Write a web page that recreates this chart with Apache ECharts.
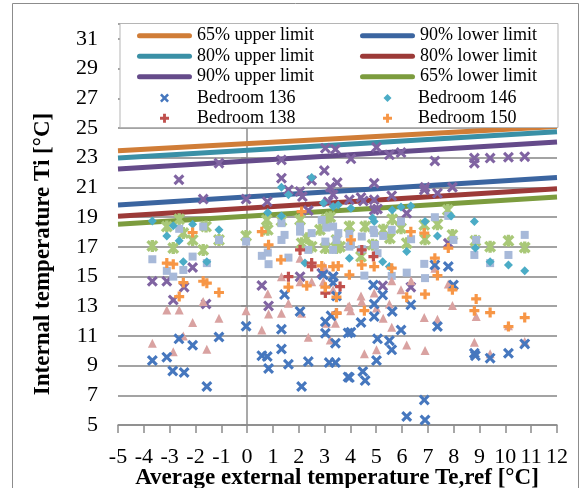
<!DOCTYPE html>
<html><head><meta charset="utf-8">
<script src="https://cdn.jsdelivr.net/npm/echarts@6/dist/echarts.min.js"></script>
<style>html,body{margin:0;padding:0;background:#fff}#c{width:584px;height:488px}</style>
</head><body><div id="c"></div>
<script>
// ---- data ----
const lineX = [-5, 12];
const up65 = [23.47, 25.1];
const up80 = [22.97, 24.75];
const up90 = [22.23, 24.05];
const lo90 = [19.82, 21.67];
const lo80 = [19.05, 20.9];
const lo65 = [18.52, 20.35];

const xTicks = [-5, 12, 1];
const yTicks = [5, 32, 2];

const bed136 = [[-3.67,9.34],[-3.11,9.57],[-2.88,8.64],[-2.44,8.53],[-2.64,10.80],[-2.11,10.37],[-1.56,7.59],[-1.09,10.93],[-0.04,11.65],[0.57,9.67],[0.78,9.61],[0.83,8.80],[1.33,11.45],[1.33,10.12],[1.60,9.09],[1.45,13.78],[2.05,12.65],[2.11,7.59],[2.37,9.27],[3.03,11.18],[3.18,9.20],[3.42,9.20],[3.42,10.51],[3.03,11.96],[3.25,12.35],[3.91,11.20],[3.91,8.24],[3.46,13.69],[3.33,14.57],[2.95,15.11],[3.33,14.99],[4.89,14.43],[5.25,13.76],[4.92,13.15],[4.92,12.30],[5.62,12.64],[6.34,13.09],[4.41,11.90],[4.02,11.25],[5.05,10.80],[5.51,10.68],[5.60,10.06],[5.96,11.40],[5.01,9.34],[7.37,11.63],[3.96,8.19],[4.48,8.60],[4.57,7.99],[6.86,6.69],[6.18,5.57],[6.89,5.34],[7.99,14.43],[8.80,9.83],[8.84,9.67],[9.41,9.50],[10.12,9.83],[10.75,10.46],[7.27,15.78],[7.79,15.67]];
const bed146 = [[-3.67,18.74],[-3.11,17.73],[-2.86,18.41],[-2.63,17.40],[-2.11,18.52],[-1.09,18.14],[-2.47,16.00],[-1.56,16.00],[1.33,21.01],[1.60,20.50],[0.80,19.30],[2.50,21.66],[2.95,19.94],[3.33,19.71],[3.53,19.82],[2.24,15.90],[1.33,19.08],[3.96,16.23],[4.02,19.60],[5.62,19.48],[5.96,19.67],[6.34,19.75],[4.92,18.70],[8.80,18.70],[7.37,17.73],[8.84,16.91],[6.18,16.68],[5.25,16.00],[5.51,15.67],[9.41,16.00],[10.12,15.78],[10.75,15.38],[7.90,19.08],[6.89,18.70],[4.86,18.93]];
const bed138 = [[1.60,14.99],[2.50,15.90],[2.05,16.79],[2.50,15.67],[3.03,13.88],[3.46,12.53],[4.89,16.34],[3.60,14.32],[4.44,16.79]];
const bed150 = [[-2.11,17.96],[-3.11,15.90],[-2.86,15.83],[-2.47,14.59],[-1.70,14.68],[-1.56,14.55],[0.57,18.02],[0.83,17.13],[1.31,16.12],[2.11,19.37],[2.89,15.71],[3.33,15.67],[3.53,15.71],[3.96,15.11],[-2.63,13.65],[-1.09,13.92],[1.60,14.28],[2.31,14.37],[3.03,14.28],[3.46,13.61],[3.46,12.53],[4.54,12.70],[6.18,13.61],[6.89,13.81],[7.95,14.10],[8.87,13.49],[8.80,12.70],[9.41,12.57],[10.75,12.23],[10.12,11.63],[6.34,18.02],[6.86,17.92],[4.02,17.46],[4.44,15.78],[4.92,15.67],[5.60,15.56],[7.27,16.23],[7.37,15.06],[7.79,16.91]];
const roomA = [[-2.64,21.51],[-1.09,22.63],[-1.70,20.21],[-0.04,20.21],[0.78,20.04],[1.33,22.85],[1.33,21.62],[1.60,20.83],[2.05,20.72],[2.14,20.38],[2.50,21.46],[2.99,22.13],[3.03,23.64],[3.42,23.57],[3.22,21.01],[3.49,21.32],[3.33,20.50],[3.14,20.04],[3.96,20.16],[2.37,19.44],[-3.67,14.68],[-3.11,14.68],[-2.11,15.60],[0.57,14.39],[2.05,14.99],[2.89,15.22],[3.33,14.99],[-2.44,14.28],[-2.86,13.42],[-1.59,13.15],[0.83,13.02],[5.01,23.70],[4.02,22.92],[5.51,23.19],[5.96,23.34],[7.27,22.78],[8.80,22.97],[8.80,22.63],[9.41,22.97],[10.12,23.03],[10.75,23.07],[4.92,21.28],[6.86,20.83],[6.89,21.01],[7.37,20.61],[7.95,21.01],[4.41,20.31],[4.50,20.09],[4.92,20.16],[5.60,20.43],[4.92,19.48],[5.05,19.55],[6.18,19.26],[7.79,17.24],[5.25,14.37],[6.34,14.28]];
const roomB = [[-3.67,17.06],[-3.11,18.36],[-2.86,16.91],[-2.63,18.86],[-2.47,17.92],[-2.11,17.46],[-1.70,16.79],[-1.59,18.36],[-1.09,17.46],[-0.04,17.73],[0.76,18.81],[0.80,18.14],[1.33,18.76],[2.05,18.81],[2.11,17.24],[2.31,17.58],[3.07,18.86],[3.22,18.99],[3.03,16.91],[3.46,16.91],[3.46,17.46],[3.96,18.36],[2.50,17.01],[2.82,18.14],[4.57,18.36],[5.27,18.14],[5.62,18.86],[5.96,18.25],[5.53,17.58],[6.86,18.47],[7.37,18.52],[7.77,19.48],[7.95,17.80],[8.84,17.40],[9.41,17.01],[10.12,17.40],[10.75,16.95],[6.18,17.24],[6.89,17.51],[4.41,16.34],[3.60,17.01],[4.86,17.13]];
const roomC = [[-3.67,16.16],[-3.11,15.38],[-2.86,14.99],[-2.63,18.21],[-2.47,15.44],[-2.11,16.34],[-1.70,18.36],[-1.56,15.90],[-1.09,17.46],[-0.04,17.35],[0.57,16.39],[0.80,16.61],[0.83,15.83],[1.33,18.59],[1.33,17.46],[1.45,17.80],[1.60,16.27],[2.05,18.36],[2.05,18.02],[2.50,17.92],[2.37,16.79],[2.89,18.81],[3.07,18.29],[3.33,18.36],[3.03,17.35],[3.46,17.46],[3.33,16.79],[3.53,17.92],[3.96,17.01],[3.96,17.87],[4.44,17.69],[4.89,18.14],[4.92,17.92],[5.60,18.14],[5.96,18.70],[5.27,17.73],[6.35,17.51],[7.27,18.99],[7.79,19.08],[7.99,17.46],[8.87,17.46],[8.80,16.45],[9.41,15.90],[10.12,16.45],[10.75,17.80],[4.02,17.13],[4.44,16.84],[4.95,17.13],[5.05,16.57],[6.89,14.89],[6.18,15.26],[4.54,15.06],[6.86,15.85],[5.60,15.04]];
const roomD = [[-3.11,12.75],[-2.63,12.75],[-2.11,11.90],[-1.70,13.31],[-1.09,12.19],[-0.04,12.70],[0.57,11.40],[0.80,13.83],[0.83,12.48],[1.33,12.53],[1.60,13.20],[2.11,12.53],[2.37,10.91],[-2.47,11.00],[-3.67,10.51],[-2.86,9.94],[-1.56,10.10],[3.07,11.85],[3.42,11.85],[3.22,10.73],[2.05,14.65],[2.50,14.65],[2.95,14.65],[3.33,14.10],[3.91,12.97],[4.41,13.69],[4.44,13.31],[3.96,13.02],[4.01,12.70],[4.92,13.88],[5.01,12.87],[5.27,12.19],[5.51,13.15],[5.60,11.59],[5.96,14.10],[6.86,12.23],[7.37,12.12],[7.95,13.04],[8.87,12.30],[8.80,10.58],[9.41,9.79],[10.12,11.69],[10.75,10.62],[4.54,9.79],[5.01,10.06],[6.18,10.39],[6.89,10.01],[7.79,14.50],[5.60,14.72],[6.35,14.72],[1.33,14.99],[2.05,16.23],[2.99,15.67],[7.27,15.56]];

// ---- styles ----
const FONT = 'Liberation Serif';
const X_SYM = 'path://M0,2L2,0L5,3L8,0L10,2L7,5L10,8L8,10L5,7L2,10L0,8L3,5Z';
const PLUS_SYM = 'path://M3.4,0H6.6V3.4H10V6.6H6.6V10H3.4V6.6H0V3.4H3.4Z';
const STAR_SYM = 'path://M0,2L2,0L5,3L8,0L10,2L7,5L10,8L8,10L5,7L2,10L0,8L3,5Z M3.6,0H6.4V10H3.6Z';
const BAR_ICON = 'path://M2.5,0H52.5A2.5,2.5 0 0 1 52.5,5H2.5A2.5,2.5 0 0 1 2.5,0Z';

const lineDefs = [
  ['65% upper limit', up65, '#d07d37'],
  ['80% upper limit', up80, '#3a90a6'],
  ['90% upper limit', up90, '#654b8a'],
  ['90% lower limit', lo90, '#3b65a0'],
  ['80% lower limit', lo80, '#9c3a38'],
  ['65% lower limit', lo65, '#7c9c3e']
];
const scatterDefs = [
  ['Room A', roomA, X_SYM, 11, '#8064a2'],
  ['Room B', roomB, STAR_SYM, 12, '#a9c878'],
  ['Room C', roomC, 'rect', 8, '#a7b9d9'],
  ['Room D', roomD, 'triangle', 9, '#d9a2a1'],
  ['Bedroom 136', bed136, X_SYM, 11, '#4677be'],
  ['Bedroom 146', bed146, 'diamond', 9, '#4bacc6'],
  ['Bedroom 138', bed138, PLUS_SYM, 10, '#c0504d'],
  ['Bedroom 150', bed150, PLUS_SYM, 10, '#f79646']
];

const series = [];
lineDefs.forEach(([name, ys, color]) => {
  series.push({
    name, type: 'line', data: lineX.map((x, i) => [x, ys[i]]),
    symbol: 'none', color, lineStyle: {width: 5, color, cap: 'butt'},
    z: 2, silent: true, animation: false
  });
});
scatterDefs.forEach(([name, data, sym, size, color], i) => {
  series.push({
    name, type: 'scatter', data, symbol: sym, symbolSize: size,
    itemStyle: {color, opacity: 1}, z: 3 + i * 0.01, animation: false
  });
});

// legend layout: two columns, five rows
const legendRows = [35.7, 56.2, 76.7, 98, 118.2];
const iconLeft = [137, 360];
const textLeft = [197, 418];
const legendItems = [
  ['65% upper limit', 0, 0, BAR_ICON, 55, 5],
  ['80% upper limit', 0, 1, BAR_ICON, 55, 5],
  ['90% upper limit', 0, 2, BAR_ICON, 55, 5],
  ['Bedroom 136', 0, 3, X_SYM, 9, 9],
  ['Bedroom 138', 0, 4, PLUS_SYM, 9, 9],
  ['90% lower limit', 1, 0, BAR_ICON, 55, 5],
  ['80% lower limit', 1, 1, BAR_ICON, 55, 5],
  ['65% lower limit', 1, 2, BAR_ICON, 55, 5],
  ['Bedroom 146', 1, 3, 'diamond', 8, 8],
  ['Bedroom 150', 1, 4, PLUS_SYM, 9, 9]
];
const legends = legendItems.map(([name, c, r, icon, w, h]) => {
  const left = w === 55 ? iconLeft[c] : iconLeft[c] + 27.5 - w / 2;
  const pad = textLeft[c] - (left + w + 5);
  return {
    left, top: legendRows[r] - 9, padding: 0,
    itemWidth: w, itemHeight: h, itemGap: 0, selectedMode: false,
    textStyle: {fontFamily: FONT, fontSize: 18, color: '#000', padding: [0, 0, 0, Math.max(0, pad)]},
    data: [{name, icon}], z: 10
  };
});

const axisLine = {show: true, lineStyle: {color: '#8c8c8c', width: 1.5}};
const option = {
  backgroundColor: '#fff',
  animation: false,
  grid: {left: 118, right: 27, top: 24, bottom: 63},
  xAxis: {
    type: 'value', min: xTicks[0], max: xTicks[1], interval: xTicks[2],
    axisLine, axisTick: {show: true, length: 8, lineStyle: {color: '#8c8c8c', width: 1.5}},
    axisLabel: {fontFamily: FONT, fontSize: 22, color: '#000', margin: 21},
    splitLine: {show: false}
  },
  yAxis: {
    type: 'value', min: yTicks[0], max: yTicks[1], interval: yTicks[2],
    axisLine, axisTick: {show: true, length: 6, lineStyle: {color: '#8c8c8c', width: 1.5}},
    axisLabel: {fontFamily: FONT, fontSize: 22, color: '#000', margin: 20,
      formatter: v => (v > 31 ? '' : String(v))},
    splitLine: {show: true, lineStyle: {color: '#a3a3a3', width: 2}}
  },
  legend: legends,
  graphic: [
    {type: 'rect', z: 0, silent: true, shape: {x: 12.5, y: 3.5, width: 566, height: 492},
      style: {fill: 'none', stroke: '#8c8c8c', lineWidth: 1}},
    {type: 'rect', z: 8, silent: true, shape: {x: 120, y: 23.5, width: 438, height: 104},
      style: {fill: '#fff', stroke: '#b5b5b5', lineWidth: 1}},
    {type: 'text', z: 9, silent: true, x: 43, y: 254, rotation: Math.PI / 2,
      style: {text: 'Internal temperature Ti [°C]', fontFamily: FONT, fontWeight: 'bold', fontSize: 23,
        fill: '#000', textAlign: 'center', textVerticalAlign: 'middle'}},
    {type: 'text', z: 9, silent: true, x: 337, y: 478.5,
      style: {text: 'Average external temperature Te,ref [°C]', fontFamily: FONT, fontWeight: 'bold', fontSize: 23,
        fill: '#000', textAlign: 'center', textVerticalAlign: 'middle'}}
  ],
  series
};
const chart = echarts.init(document.getElementById('c'), null, {renderer: 'canvas'});
chart.setOption(option);
</script>
</body></html>
